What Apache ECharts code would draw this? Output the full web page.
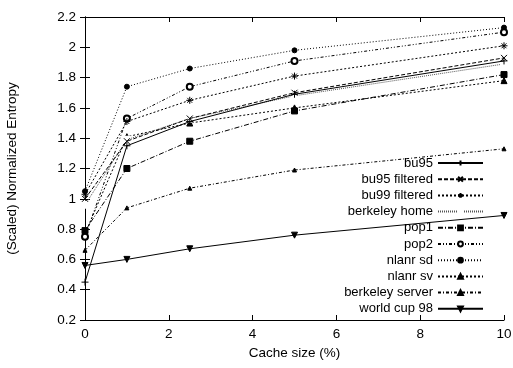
<!DOCTYPE html>
<html>
<head>
<meta charset="utf-8">
<script src="https://cdn.jsdelivr.net/npm/echarts@6/dist/echarts.min.js"></script>
<style>
  html, body { margin: 0; padding: 0; background: #fff; }
  #chart { width: 513px; height: 368px; }
</style>
</head>
<body>
<div id="chart"></div>
<script>
// cache sizes (%)
const cacheSizes = [0, 1, 2.5, 5, 10];

const bu95 = [0.45, 1.35, 1.51, 1.69, 1.91];
const bu95Filtered = [1.00, 1.38, 1.53, 1.70, 1.93];
const bu99Filtered = [1.03, 1.51, 1.65, 1.81, 2.01];
const berkeleyHome = [0.96, 1.39, 1.53, 1.68, 1.89];
const pop1 = [0.79, 1.20, 1.38, 1.58, 1.82];
const pop2 = [0.75, 1.53, 1.74, 1.91, 2.10];
const nlanrSd = [1.05, 1.74, 1.86, 1.98, 2.13];
const nlanrSv = [0.77, 1.41, 1.50, 1.60, 1.78];
const berkeleyServer = [0.66, 0.94, 1.07, 1.19, 1.33];
const worldCup98 = [0.56, 0.60, 0.67, 0.76, 0.89];

const seriesNames = ['bu95', 'bu95 filtered', 'bu99 filtered', 'berkeley home', 'pop1',
  'pop2', 'nlanr sd', 'nlanr sv', 'berkeley server', 'world cup 98'];
const seriesData = [bu95, bu95Filtered, bu99Filtered, berkeleyHome, pop1,
  pop2, nlanrSd, nlanrSv, berkeleyServer, worldCup98];

const plusPath = 'path://M0,5L10,5M5,0L5,10';
const crossPath = 'path://M0,0L10,10M10,0L0,10';
const starPath = 'path://M0,5L10,5M5,0L5,10M1.5,1.5L8.5,8.5M8.5,1.5L1.5,8.5';

// marker / line look for each series
const looks = [
  { symbol: plusPath, size: 7, stroke: true, dash: 'solid', color: '#000' },
  { symbol: crossPath, size: 6, stroke: true, dash: [4, 2], color: '#000' },
  { symbol: starPath, size: 7, stroke: true, dash: [2, 2], color: '#000' },
  { symbol: 'emptyRect', size: 6, dash: [1, 1], color: '#555' },
  { symbol: 'rect', size: 6, dash: [5, 2, 1, 2], color: '#000' },
  { symbol: 'emptyCircle', size: 6, dash: [3, 2, 1, 2, 1, 2], color: '#000' },
  { symbol: 'circle', size: 5, dash: [1, 2], color: '#000' },
  { symbol: 'triangle', size: 6, dash: [2, 2], color: '#000' },
  { symbol: 'triangle', size: 4, dash: [3, 2, 1, 2], color: '#000' },
  { symbol: 'triangle', size: 6, dash: 'solid', color: '#000', rotate: 180 }
];

const font = 'Liberation Sans, Arial, sans-serif';

const series = seriesNames.map((name, i) => {
  const lk = looks[i];
  return {
    name: name,
    type: 'line',
    data: cacheSizes.map((x, j) => [x, seriesData[i][j]]),
    symbol: lk.symbol,
    symbolSize: lk.size,
    symbolRotate: lk.rotate || 0,
    showAllSymbol: true,
    animation: false,
    z: 10 - i,
    lineStyle: { color: lk.color, width: 1, type: lk.dash },
    itemStyle: lk.stroke
      ? { color: '#000', borderColor: '#000', borderWidth: 1 }
      : { color: lk.color === '#555' ? '#fff' : '#000', borderColor: '#000', borderWidth: 1 },
    emphasis: { disabled: true }
  };
});

// one legend per entry so text ends right-aligned against the line samples
const legends = seriesNames.map((name, i) => ({
  data: [name],
  right: 29,
  top: 156 + i * 16.2,
  align: 'right',
  itemWidth: 45,
  itemHeight: 6,
  padding: 0,
  selectedMode: false,
  textStyle: { fontFamily: font, fontSize: 13, color: '#000', lineHeight: 14 }
}));

const axisCommon = {
  type: 'value',
  axisLine: { show: true, lineStyle: { color: '#000', width: 1 } },
  axisTick: { show: true, inside: true, length: 5, lineStyle: { color: '#000' } },
  splitLine: { show: false }
};

const option = {
  backgroundColor: '#fff',
  animation: false,
  grid: { left: 85, right: 9, top: 17, bottom: 48, outerBoundsMode: 'none' },
  legend: legends,
  xAxis: [
    Object.assign({}, axisCommon, {
      min: 0, max: 10, interval: 2,
      position: 'bottom',
      name: 'Cache size (%)',
      nameLocation: 'middle',
      nameGap: 20,
      nameTextStyle: { fontFamily: font, fontSize: 13.5, color: '#000' },
      axisLabel: { fontFamily: font, fontSize: 13.5, color: '#000', margin: 7 }
    }),
    Object.assign({}, axisCommon, {
      min: 0, max: 10, interval: 2,
      position: 'top',
      axisLabel: { show: false }
    })
  ],
  yAxis: [
    Object.assign({}, axisCommon, {
      min: 0.2, max: 2.2, interval: 0.2,
      position: 'left',
      name: '(Scaled) Normalized Entropy',
      nameLocation: 'middle',
      nameGap: 66,
      nameTextStyle: { fontFamily: font, fontSize: 13.5, color: '#000' },
      axisLabel: { fontFamily: font, fontSize: 13.5, color: '#000', margin: 9 }
    }),
    Object.assign({}, axisCommon, {
      min: 0.2, max: 2.2, interval: 0.2,
      position: 'right',
      axisLabel: { show: false }
    })
  ],
  series: series
};

const myChart = echarts.init(document.getElementById('chart'));
myChart.setOption(option);
</script>
</body>
</html>
